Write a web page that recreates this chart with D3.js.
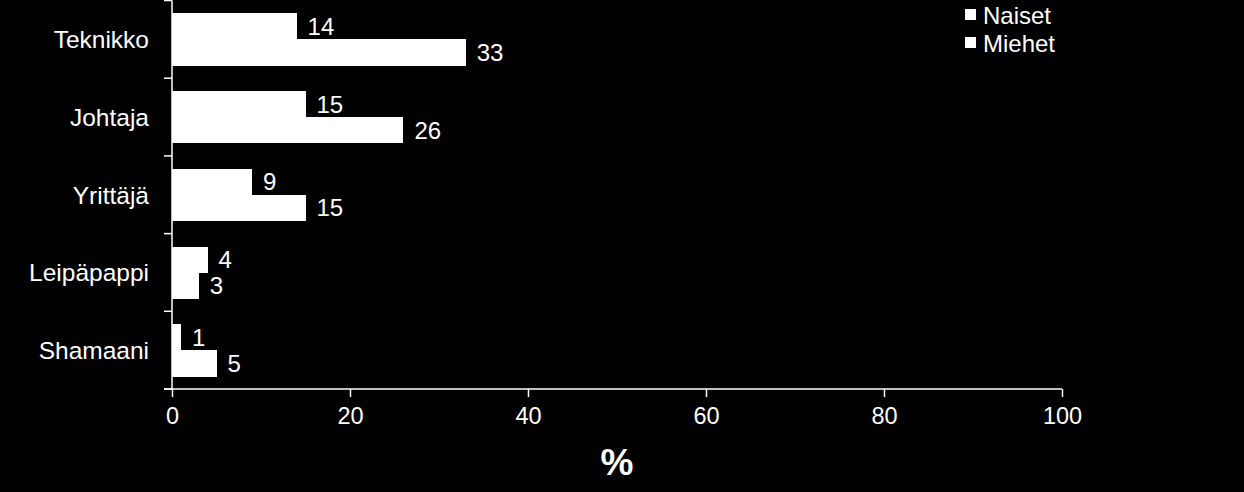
<!DOCTYPE html>
<html>
<head>
<meta charset="utf-8">
<script src="https://cdn.jsdelivr.net/npm/d3@7"></script>
<style>
  body { margin: 0; background: #000; }
  svg { display: block; }
  text { font-family: "Liberation Sans", Arial, sans-serif; fill: #fff; }
</style>
</head>
<body>
<div id="chart"></div>
<script>
const categories = ["Teknikko", "Johtaja", "Yrittäjä", "Leipäpappi", "Shamaani"];
const seriesNames = ["Naiset", "Miehet"];
const naiset = [14, 15, 9, 4, 1];
const miehet = [33, 26, 15, 3, 5];
const xTicks = [0, 20, 40, 60, 80, 100];

const width = 1244, height = 492;
const plotLeft = 172, plotRight = 1062, plotTop = 0.5, plotBottom = 389;

const rows = categories.map((c, i) => ({ cat: c, vals: [naiset[i], miehet[i]] }));

const svg = d3.select("#chart").append("svg")
  .attr("width", width)
  .attr("height", height);

svg.append("rect").attr("width", width).attr("height", height).attr("fill", "#000");

const x = d3.scaleLinear().domain([0, 100]).range([plotLeft, plotRight]);
const y = d3.scaleBand().domain(categories).range([plotTop, plotBottom]).padding(0);
const ySub = d3.scaleBand().domain(seriesNames).range([0, y.bandwidth()])
  .paddingInner(0).paddingOuter(0.5);

// bars
const g = svg.selectAll(".grp")
  .data(rows)
.enter().append("g")
  .attr("class", "grp")
  .attr("transform", d => `translate(0,${y(d.cat)})`);

g.selectAll("rect")
  .data(d => d.vals.map((v, j) => ({ s: seriesNames[j], v })))
.enter().append("rect")
  .attr("x", x(0))
  .attr("y", d => ySub(d.s))
  .attr("width", d => x(d.v) - x(0))
  .attr("height", ySub.bandwidth() + 0.5)
  .attr("fill", "#fff")
  .attr("shape-rendering", "crispEdges");

g.selectAll(".val")
  .data(d => d.vals.map((v, j) => ({ s: seriesNames[j], v })))
.enter().append("text")
  .attr("class", "val")
  .attr("x", d => x(d.v) + 11)
  .attr("y", d => ySub(d.s) + ySub.bandwidth() / 2)
  .attr("dy", "0.36em")
  .attr("font-size", 24)
  .text(d => d.v);

// y axis: line, boundary ticks, labels
svg.append("line")
  .attr("x1", plotLeft).attr("x2", plotLeft)
  .attr("y1", plotTop).attr("y2", plotBottom)
  .attr("stroke", "#fff").attr("stroke-width", 1.5);

const bounds = categories.map(c => y(c)).concat([plotBottom]);
svg.selectAll(".ytick")
  .data(bounds)
.enter().append("line")
  .attr("x1", plotLeft - 8).attr("x2", plotLeft)
  .attr("y1", d => d).attr("y2", d => d)
  .attr("stroke", "#fff").attr("stroke-width", 1.5);

svg.selectAll(".ylab")
  .data(categories)
.enter().append("text")
  .attr("x", 149)
  .attr("y", d => y(d) + y.bandwidth() / 2)
  .attr("dy", "0.36em")
  .attr("text-anchor", "end")
  .attr("font-size", 24.5)
  .text(d => d);

// x axis
const xAxis = svg.append("g")
  .attr("transform", `translate(0,${plotBottom})`)
  .call(d3.axisBottom(x).tickValues(xTicks).tickSize(8).tickPadding(10).tickSizeOuter(0));
xAxis.select(".domain").attr("stroke", "#fff").attr("stroke-width", 1.5)
  .attr("d", `M${plotLeft - 8},0H${plotRight}`);
xAxis.selectAll(".tick line").attr("stroke", "#fff").attr("stroke-width", 1.5);
xAxis.selectAll(".tick text")
  .attr("fill", "#fff")
  .attr("font-size", 23.5)
  .attr("font-family", "Liberation Sans, Arial, sans-serif");

svg.append("text")
  .attr("x", 617)
  .attr("y", 475)
  .attr("text-anchor", "middle")
  .attr("font-size", 37)
  .attr("font-weight", "bold")
  .text("%");

// legend
const legend = svg.selectAll(".leg")
  .data(seriesNames)
.enter().append("g")
  .attr("transform", (d, i) => `translate(965,${9 + i * 28})`);
legend.append("rect").attr("width", 11).attr("height", 11).attr("fill", "#fff");
legend.append("text")
  .attr("x", 18).attr("y", 6).attr("dy", "0.36em")
  .attr("font-size", 24)
  .text(d => d);
</script>
</body>
</html>
